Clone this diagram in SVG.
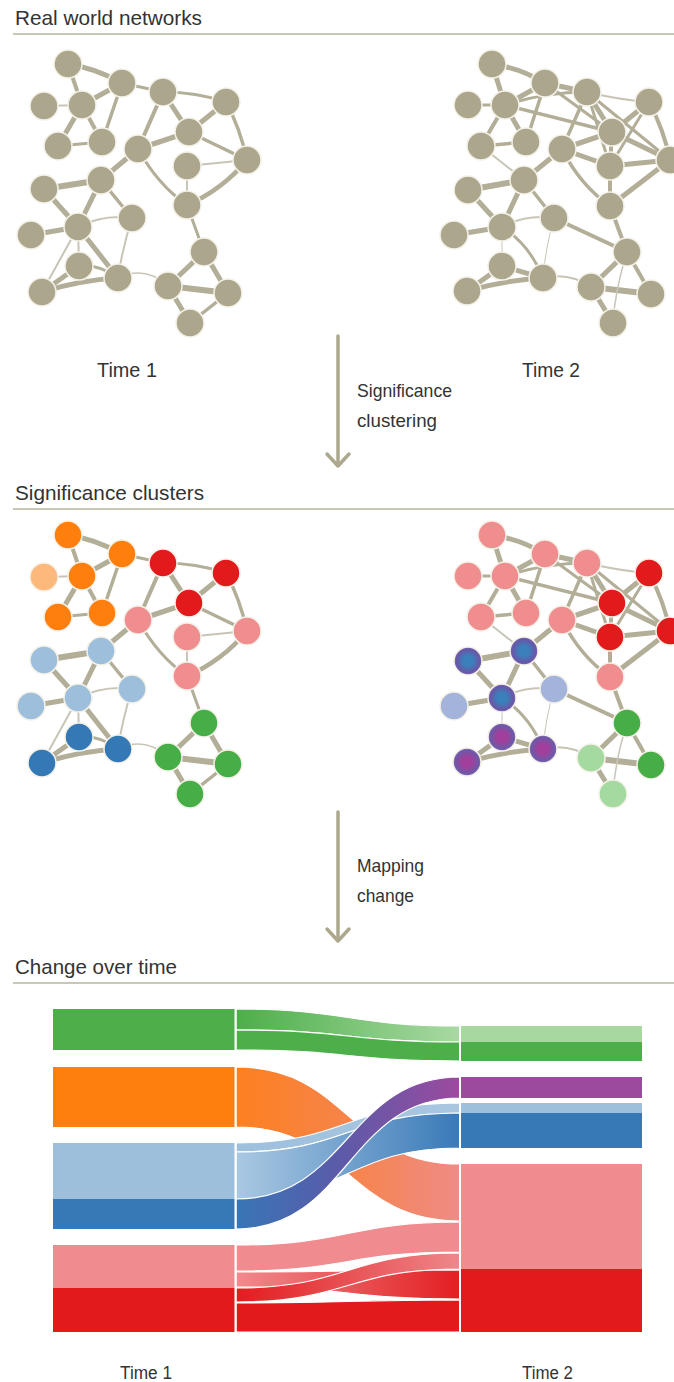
<svg xmlns="http://www.w3.org/2000/svg" xmlns:xlink="http://www.w3.org/1999/xlink" width="674" height="1382" viewBox="0 0 674 1382">
<style>
.hd{font-family:"Liberation Sans",Arial,sans-serif;font-size:21px;fill:#333333}
.lb{font-family:"Liberation Sans",Arial,sans-serif;font-size:20px;fill:#333333}
.al{font-family:"Liberation Sans",Arial,sans-serif;font-size:18.5px;fill:#333333}
.bl{font-family:"Liberation Sans",Arial,sans-serif;font-size:18px;fill:#333333}
.rule{stroke:#c9c7b7;stroke-width:2}
.arr{stroke:#aca88e;stroke-width:3.5;fill:none;stroke-linecap:round;stroke-linejoin:round}
.e{stroke:#b3ae97;fill:none;stroke-linecap:round}
.t{stroke:#c8c5b6}
.n circle{stroke:#f3f1e8;stroke-width:1.5}
.g{fill:#aca78c}
.or{fill:#ff7f0e}.lo{fill:#fdb97c}.rd{fill:#e31a1c}.pk{fill:#f08d8f}.lbl{fill:#9ebfdc}.db{fill:#3478b5}.gr{fill:#47ae47}.lg{fill:#a4d9a0}.lv{fill:#a3b3d9}
.mb{fill:url(#mixB)}.mp{fill:url(#mixP)}
.flow{stroke:#ffffff;stroke-width:1.2}
</style>
<defs>
<radialGradient id="mixB"><stop offset="0.35" stop-color="#3a80bb"/><stop offset="0.85" stop-color="#6a56a6"/><stop offset="1" stop-color="#7f6fb8"/></radialGradient>
<radialGradient id="mixP"><stop offset="0.35" stop-color="#a23f9c"/><stop offset="0.85" stop-color="#6a5aa8"/><stop offset="1" stop-color="#9d6fb8"/></radialGradient>
<linearGradient id="fGreen" gradientUnits="userSpaceOnUse" x1="237" y1="0" x2="459" y2="0"><stop offset="0" stop-color="#4daf4a"/><stop offset="1" stop-color="#a8d9a2"/></linearGradient>
<linearGradient id="fOrange" gradientUnits="userSpaceOnUse" x1="237" y1="0" x2="459" y2="0"><stop offset="0" stop-color="#fd8020"/><stop offset="0.5" stop-color="#f6844a"/><stop offset="1" stop-color="#ef8b86"/></linearGradient>
<linearGradient id="fBlue" gradientUnits="userSpaceOnUse" x1="237" y1="0" x2="459" y2="0"><stop offset="0" stop-color="#a9c8e2"/><stop offset="1" stop-color="#3a7ab8"/></linearGradient>
<linearGradient id="fLB" gradientUnits="userSpaceOnUse" x1="237" y1="0" x2="459" y2="0"><stop offset="0" stop-color="#9ec0dd"/><stop offset="1" stop-color="#a8c6e0"/></linearGradient>
<linearGradient id="fPurple" gradientUnits="userSpaceOnUse" x1="237" y1="0" x2="459" y2="0"><stop offset="0" stop-color="#3876b6"/><stop offset="0.45" stop-color="#5a5ba9"/><stop offset="1" stop-color="#9c4a9e"/></linearGradient>
<linearGradient id="fPR" gradientUnits="userSpaceOnUse" x1="237" y1="0" x2="459" y2="0"><stop offset="0" stop-color="#f08a8d"/><stop offset="1" stop-color="#e31f22"/></linearGradient>
<linearGradient id="fRP" gradientUnits="userSpaceOnUse" x1="237" y1="0" x2="459" y2="0"><stop offset="0" stop-color="#e31c1f"/><stop offset="1" stop-color="#ee878a"/></linearGradient>
<g id="edgesT1">
<path class="e" stroke-width="5" d="M68 64 Q95 68 122 83"/>
<path class="e" stroke-width="4" d="M68 64 L82 105"/>
<path class="e" stroke-width="5" d="M122 83 L82 105"/>
<path class="e t" stroke-width="2" d="M44 106 L82 105"/>
<path class="e" stroke-width="3.5" d="M122 83 L102 142"/>
<path class="e" stroke-width="5" d="M82 105 L58 146"/>
<path class="e" stroke-width="4" d="M82 105 L102 142"/>
<path class="e" stroke-width="3" d="M58 146 L102 142"/>
<path class="e" stroke-width="3" d="M122 83 L163 92"/>
<path class="e" stroke-width="3" d="M163 92 Q196 92 226 102"/>
<path class="e" stroke-width="4" d="M163 92 L138 149"/>
<path class="e" stroke-width="5" d="M163 92 L189 132"/>
<path class="e" stroke-width="5.5" d="M138 149 L189 132"/>
<path class="e" stroke-width="5" d="M226 102 L189 132"/>
<path class="e" stroke-width="3.5" d="M226 102 Q240 128 247 160"/>
<path class="e" stroke-width="3.5" d="M189 132 L247 160"/>
<path class="e t" stroke-width="2" d="M187 166 L247 160"/>
<path class="e t" stroke-width="2" d="M187 166 L187 205"/>
<path class="e" stroke-width="4.5" d="M247 160 Q222 190 187 205"/>
<path class="e" stroke-width="3" d="M138 149 Q158 185 187 205"/>
<path class="e" stroke-width="5" d="M138 149 L101 180"/>
<path class="e" stroke-width="6" d="M44 189 L101 180"/>
<path class="e" stroke-width="5" d="M44 189 L78 227"/>
<path class="e" stroke-width="5" d="M101 180 L78 227"/>
<path class="e" stroke-width="3.5" d="M101 180 L132 218"/>
<path class="e t" stroke-width="2" d="M132 218 Q104 214 78 227"/>
<path class="e" stroke-width="5" d="M78 227 L31 235"/>
<path class="e t" stroke-width="2" d="M78 227 L79 266"/>
<path class="e" stroke-width="5" d="M78 227 L118 278"/>
<path class="e t" stroke-width="2" d="M78 227 L42 292"/>
<path class="e t" stroke-width="2" d="M132 218 Q122 250 118 278"/>
<path class="e" stroke-width="3" d="M79 266 Q100 264 118 278"/>
<path class="e" stroke-width="5" d="M79 266 L42 292"/>
<path class="e" stroke-width="5" d="M42 292 Q80 280 118 278"/>
<path class="e t" stroke-width="1.5" d="M118 278 Q145 265 168 286"/>
<path class="e" stroke-width="3" d="M187 205 L204 252"/>
<path class="e" stroke-width="5" d="M204 252 L168 286"/>
<path class="e" stroke-width="5" d="M204 252 L228 293"/>
<path class="e" stroke-width="6" d="M168 286 L228 293"/>
<path class="e" stroke-width="5" d="M168 286 L190 323"/>
<path class="e" stroke-width="3.5" d="M228 293 L190 323"/>
</g>
<g id="edgesT2">
<path class="e" stroke-width="5" d="M492 64 Q520 68 545 83"/>
<path class="e" stroke-width="5" d="M492 64 L505 105"/>
<path class="e" stroke-width="3" d="M468 105 L505 105"/>
<path class="e" stroke-width="5" d="M545 83 L505 105"/>
<path class="e" stroke-width="3" d="M505 105 Q545 92 587 92"/>
<path class="e" stroke-width="5" d="M545 83 L587 92"/>
<path class="e" stroke-width="3" d="M545 83 L612 132"/>
<path class="e" stroke-width="3.5" d="M505 105 L612 132"/>
<path class="e" stroke-width="5" d="M505 105 L526 142"/>
<path class="e" stroke-width="4" d="M505 105 L481 146"/>
<path class="e" stroke-width="3.5" d="M481 146 L526 142"/>
<path class="e" stroke-width="3.5" d="M545 83 L526 142"/>
<path class="e" stroke-width="3.5" d="M587 92 L562 149"/>
<path class="e" stroke-width="5" d="M587 92 L612 132"/>
<path class="e" stroke-width="3" d="M587 92 L610 166"/>
<path class="e t" stroke-width="2" d="M587 92 Q620 100 649 102"/>
<path class="e" stroke-width="5.5" d="M562 149 L612 132"/>
<path class="e" stroke-width="5" d="M562 149 L610 166"/>
<path class="e" stroke-width="5" d="M649 102 L612 132"/>
<path class="e" stroke-width="3" d="M649 102 L610 166"/>
<path class="e" stroke-width="4" d="M649 102 Q664 130 670 160"/>
<path class="e" stroke-width="5" d="M612 132 L670 160"/>
<path class="e" stroke-width="5" d="M610 166 L670 160"/>
<path class="e" stroke-width="4" d="M612 132 L610 166"/>
<path class="e" stroke-width="3" d="M587 92 L670 160"/>
<path class="e" stroke-width="3.5" d="M562 149 Q580 185 610 206"/>
<path class="e" stroke-width="4" d="M610 166 L610 206"/>
<path class="e" stroke-width="5" d="M670 160 L610 206"/>
<path class="e t" stroke-width="2" d="M481 146 L524 180"/>
<path class="e" stroke-width="5" d="M562 149 L524 180"/>
<path class="e" stroke-width="6" d="M468 190 L524 180"/>
<path class="e" stroke-width="5" d="M468 190 L502 227"/>
<path class="e" stroke-width="5" d="M524 180 L502 227"/>
<path class="e" stroke-width="3.5" d="M524 180 L554 218"/>
<path class="e t" stroke-width="2" d="M554 218 Q526 214 502 227"/>
<path class="e" stroke-width="5" d="M454 235 L502 227"/>
<path class="e t" stroke-width="1" d="M502 227 L502 266"/>
<path class="e" stroke-width="3" d="M502 227 Q530 245 543 278"/>
<path class="e t" stroke-width="1" d="M554 218 Q545 250 543 278"/>
<path class="e" stroke-width="4" d="M554 218 L627 252"/>
<path class="e" stroke-width="4" d="M610 206 L627 252"/>
<path class="e" stroke-width="5" d="M502 266 L543 278"/>
<path class="e" stroke-width="5" d="M502 266 L467 291"/>
<path class="e" stroke-width="5" d="M467 291 Q505 280 543 278"/>
<path class="e t" stroke-width="2" d="M543 278 Q570 272 591 287"/>
<path class="e" stroke-width="5" d="M627 252 L591 287"/>
<path class="e" stroke-width="4" d="M627 252 L651 294"/>
<path class="e" stroke-width="6" d="M591 287 L651 294"/>
<path class="e" stroke-width="5" d="M591 287 L613 323"/>
<path class="e t" stroke-width="1.5" d="M627 252 Q615 290 613 323"/>
</g>
</defs>
<rect width="674" height="1382" fill="#ffffff"/>

<g id="headers">
<text class="hd" x="15" y="25" textLength="187" lengthAdjust="spacingAndGlyphs">Real world networks</text>
<line class="rule" x1="13" y1="34" x2="674" y2="34"/>
<text class="hd" x="15" y="500" textLength="189" lengthAdjust="spacingAndGlyphs">Significance clusters</text>
<line class="rule" x1="13" y1="509" x2="674" y2="509"/>
<text class="hd" x="15" y="974" textLength="162" lengthAdjust="spacingAndGlyphs">Change over time</text>
<line class="rule" x1="13" y1="983" x2="674" y2="983"/>
<text class="lb" x="97" y="377" textLength="60" lengthAdjust="spacingAndGlyphs">Time 1</text>
<text class="lb" x="522" y="377" textLength="58" lengthAdjust="spacingAndGlyphs">Time 2</text>
<text class="bl" x="120" y="1379" textLength="52" lengthAdjust="spacingAndGlyphs">Time 1</text>
<text class="bl" x="522" y="1379" textLength="51" lengthAdjust="spacingAndGlyphs">Time 2</text>
</g>

<g id="arrow-clustering">
<line class="arr" x1="338" y1="336" x2="338" y2="465"/>
<polyline class="arr" points="327,454 338,466 349,454"/>
<text class="al" x="357" y="397" textLength="95" lengthAdjust="spacingAndGlyphs">Significance</text>
<text class="al" x="357" y="427" textLength="80" lengthAdjust="spacingAndGlyphs">clustering</text>
</g>
<g id="arrow-mapping">
<line class="arr" x1="338" y1="812" x2="338" y2="940"/>
<polyline class="arr" points="327,929 338,941 349,929"/>
<text class="al" x="357" y="872" textLength="67" lengthAdjust="spacingAndGlyphs">Mapping</text>
<text class="al" x="357" y="902" textLength="57" lengthAdjust="spacingAndGlyphs">change</text>
</g>

<g id="connectors">
<use xlink:href="#edgesT1" href="#edgesT1"/>
<use xlink:href="#edgesT2" href="#edgesT2"/>
<use xlink:href="#edgesT1" href="#edgesT1" transform="translate(0,471)"/>
<use xlink:href="#edgesT2" href="#edgesT2" transform="translate(0,471)"/>
</g>

<g id="network-time1">
<g id="a1" class="n"><circle class="g" cx="68" cy="64" r="14"/></g>
<g id="a2" class="n"><circle class="g" cx="122" cy="83" r="14"/></g>
<g id="a3" class="n"><circle class="g" cx="44" cy="106" r="14"/></g>
<g id="a4" class="n"><circle class="g" cx="82" cy="105" r="14"/></g>
<g id="a5" class="n"><circle class="g" cx="163" cy="92" r="14"/></g>
<g id="a6" class="n"><circle class="g" cx="226" cy="102" r="14"/></g>
<g id="a7" class="n"><circle class="g" cx="58" cy="146" r="14"/></g>
<g id="a8" class="n"><circle class="g" cx="102" cy="142" r="14"/></g>
<g id="a9" class="n"><circle class="g" cx="138" cy="149" r="14"/></g>
<g id="a10" class="n"><circle class="g" cx="189" cy="132" r="14"/></g>
<g id="a11" class="n"><circle class="g" cx="187" cy="166" r="14"/></g>
<g id="a12" class="n"><circle class="g" cx="247" cy="160" r="14"/></g>
<g id="a13" class="n"><circle class="g" cx="44" cy="189" r="14"/></g>
<g id="a14" class="n"><circle class="g" cx="101" cy="180" r="14"/></g>
<g id="a15" class="n"><circle class="g" cx="187" cy="205" r="14"/></g>
<g id="a16" class="n"><circle class="g" cx="132" cy="218" r="14"/></g>
<g id="a17" class="n"><circle class="g" cx="78" cy="227" r="14"/></g>
<g id="a18" class="n"><circle class="g" cx="31" cy="235" r="14"/></g>
<g id="a19" class="n"><circle class="g" cx="79" cy="266" r="14"/></g>
<g id="a20" class="n"><circle class="g" cx="118" cy="278" r="14"/></g>
<g id="a21" class="n"><circle class="g" cx="204" cy="252" r="14"/></g>
<g id="a22" class="n"><circle class="g" cx="168" cy="286" r="14"/></g>
<g id="a23" class="n"><circle class="g" cx="228" cy="293" r="14"/></g>
<g id="a24" class="n"><circle class="g" cx="42" cy="292" r="14"/></g>
<g id="a25" class="n"><circle class="g" cx="190" cy="323" r="14"/></g>
</g>

<g id="network-time2">
<g id="b1" class="n"><circle class="g" cx="492" cy="64" r="14"/></g>
<g id="b2" class="n"><circle class="g" cx="545" cy="83" r="14"/></g>
<g id="b3" class="n"><circle class="g" cx="468" cy="105" r="14"/></g>
<g id="b4" class="n"><circle class="g" cx="505" cy="105" r="14"/></g>
<g id="b5" class="n"><circle class="g" cx="587" cy="92" r="14"/></g>
<g id="b6" class="n"><circle class="g" cx="649" cy="102" r="14"/></g>
<g id="b7" class="n"><circle class="g" cx="481" cy="146" r="14"/></g>
<g id="b8" class="n"><circle class="g" cx="526" cy="142" r="14"/></g>
<g id="b9" class="n"><circle class="g" cx="562" cy="149" r="14"/></g>
<g id="b10" class="n"><circle class="g" cx="612" cy="132" r="14"/></g>
<g id="b11" class="n"><circle class="g" cx="610" cy="166" r="14"/></g>
<g id="b12" class="n"><circle class="g" cx="670" cy="160" r="14"/></g>
<g id="b13" class="n"><circle class="g" cx="468" cy="190" r="14"/></g>
<g id="b14" class="n"><circle class="g" cx="524" cy="180" r="14"/></g>
<g id="b15" class="n"><circle class="g" cx="610" cy="206" r="14"/></g>
<g id="b16" class="n"><circle class="g" cx="554" cy="218" r="14"/></g>
<g id="b17" class="n"><circle class="g" cx="502" cy="227" r="14"/></g>
<g id="b18" class="n"><circle class="g" cx="454" cy="235" r="14"/></g>
<g id="b19" class="n"><circle class="g" cx="502" cy="266" r="14"/></g>
<g id="b20" class="n"><circle class="g" cx="543" cy="278" r="14"/></g>
<g id="b21" class="n"><circle class="g" cx="627" cy="252" r="14"/></g>
<g id="b22" class="n"><circle class="g" cx="591" cy="287" r="14"/></g>
<g id="b23" class="n"><circle class="g" cx="651" cy="294" r="14"/></g>
<g id="b24" class="n"><circle class="g" cx="467" cy="291" r="14"/></g>
<g id="b25" class="n"><circle class="g" cx="613" cy="323" r="14"/></g>
</g>

<g id="clusters-time1" transform="translate(0,471)">
<g id="c1" class="n"><circle class="or" cx="68" cy="64" r="14"/></g>
<g id="c2" class="n"><circle class="or" cx="122" cy="83" r="14"/></g>
<g id="c3" class="n"><circle class="lo" cx="44" cy="106" r="14"/></g>
<g id="c4" class="n"><circle class="or" cx="82" cy="105" r="14"/></g>
<g id="c5" class="n"><circle class="rd" cx="163" cy="92" r="14"/></g>
<g id="c6" class="n"><circle class="rd" cx="226" cy="102" r="14"/></g>
<g id="c7" class="n"><circle class="or" cx="58" cy="146" r="14"/></g>
<g id="c8" class="n"><circle class="or" cx="102" cy="142" r="14"/></g>
<g id="c9" class="n"><circle class="pk" cx="138" cy="149" r="14"/></g>
<g id="c10" class="n"><circle class="rd" cx="189" cy="132" r="14"/></g>
<g id="c11" class="n"><circle class="pk" cx="187" cy="166" r="14"/></g>
<g id="c12" class="n"><circle class="pk" cx="247" cy="160" r="14"/></g>
<g id="c13" class="n"><circle class="lbl" cx="44" cy="189" r="14"/></g>
<g id="c14" class="n"><circle class="lbl" cx="101" cy="180" r="14"/></g>
<g id="c15" class="n"><circle class="pk" cx="187" cy="205" r="14"/></g>
<g id="c16" class="n"><circle class="lbl" cx="132" cy="218" r="14"/></g>
<g id="c17" class="n"><circle class="lbl" cx="78" cy="227" r="14"/></g>
<g id="c18" class="n"><circle class="lbl" cx="31" cy="235" r="14"/></g>
<g id="c19" class="n"><circle class="db" cx="79" cy="266" r="14"/></g>
<g id="c20" class="n"><circle class="db" cx="118" cy="278" r="14"/></g>
<g id="c21" class="n"><circle class="gr" cx="204" cy="252" r="14"/></g>
<g id="c22" class="n"><circle class="gr" cx="168" cy="286" r="14"/></g>
<g id="c23" class="n"><circle class="gr" cx="228" cy="293" r="14"/></g>
<g id="c24" class="n"><circle class="db" cx="42" cy="292" r="14"/></g>
<g id="c25" class="n"><circle class="gr" cx="190" cy="323" r="14"/></g>
</g>

<g id="clusters-time2" transform="translate(0,471)">
<g id="d1" class="n"><circle class="pk" cx="492" cy="64" r="14"/></g>
<g id="d2" class="n"><circle class="pk" cx="545" cy="83" r="14"/></g>
<g id="d3" class="n"><circle class="pk" cx="468" cy="105" r="14"/></g>
<g id="d4" class="n"><circle class="pk" cx="505" cy="105" r="14"/></g>
<g id="d5" class="n"><circle class="pk" cx="587" cy="92" r="14"/></g>
<g id="d6" class="n"><circle class="rd" cx="649" cy="102" r="14"/></g>
<g id="d7" class="n"><circle class="pk" cx="481" cy="146" r="14"/></g>
<g id="d8" class="n"><circle class="pk" cx="526" cy="142" r="14"/></g>
<g id="d9" class="n"><circle class="pk" cx="562" cy="149" r="14"/></g>
<g id="d10" class="n"><circle class="rd" cx="612" cy="132" r="14"/></g>
<g id="d11" class="n"><circle class="rd" cx="610" cy="166" r="14"/></g>
<g id="d12" class="n"><circle class="rd" cx="670" cy="160" r="14"/></g>
<g id="d13" class="n"><circle class="mb" cx="468" cy="190" r="14"/></g>
<g id="d14" class="n"><circle class="mb" cx="524" cy="180" r="14"/></g>
<g id="d15" class="n"><circle class="pk" cx="610" cy="206" r="14"/></g>
<g id="d16" class="n"><circle class="lv" cx="554" cy="218" r="14"/></g>
<g id="d17" class="n"><circle class="mb" cx="502" cy="227" r="14"/></g>
<g id="d18" class="n"><circle class="lv" cx="454" cy="235" r="14"/></g>
<g id="d19" class="n"><circle class="mp" cx="502" cy="266" r="14"/></g>
<g id="d20" class="n"><circle class="mp" cx="543" cy="278" r="14"/></g>
<g id="d21" class="n"><circle class="gr" cx="627" cy="252" r="14"/></g>
<g id="d22" class="n"><circle class="lg" cx="591" cy="287" r="14"/></g>
<g id="d23" class="n"><circle class="gr" cx="651" cy="294" r="14"/></g>
<g id="d24" class="n"><circle class="mp" cx="467" cy="291" r="14"/></g>
<g id="d25" class="n"><circle class="lg" cx="613" cy="323" r="14"/></g>
</g>

<g id="alluvial">
<g id="bars-time1">
<rect x="53" y="1009" width="182" height="41" fill="#4daf4a"/>
<rect x="53" y="1067" width="182" height="60" fill="#ff7f0e"/>
<rect x="53" y="1143" width="182" height="56" fill="#9ebfdc"/>
<rect x="53" y="1199" width="182" height="30" fill="#3679b6"/>
<rect x="53" y="1245" width="182" height="43" fill="#f08c8f"/>
<rect x="53" y="1288" width="182" height="44" fill="#e31a1c"/>
</g>
<g id="bars-time2">
<rect x="460" y="1026" width="182" height="16" fill="#a6d8a0"/>
<rect x="460" y="1042" width="182" height="19" fill="#4daf4a"/>
<rect x="460" y="1077" width="182" height="21" fill="#9b4a9e"/>
<rect x="460" y="1103" width="182" height="10" fill="#9ebfdc"/>
<rect x="460" y="1113" width="182" height="35" fill="#3679b6"/>
<rect x="460" y="1164" width="182" height="105" fill="#f08c8f"/>
<rect x="460" y="1269" width="182" height="63" fill="#e31a1c"/>
</g>
<g id="flows">
<path class="flow" fill="url(#fGreen)" d="M236 1009 C348 1009 348 1026 460 1026 L460 1042 C348 1042 348 1030 236 1030 Z"/>
<path class="flow" fill="#4daf4a" d="M236 1030 C348 1030 348 1042 460 1042 L460 1061 C348 1061 348 1050 236 1050 Z"/>
<path class="flow" fill="url(#fOrange)" d="M236 1067 C348 1067 348 1164 460 1164 L460 1221 C348 1221 348 1127 236 1127 Z"/>
<path class="flow" fill="url(#fLB)" d="M236 1143 C348 1143 348 1103 460 1103 L460 1113 C348 1113 348 1152 236 1152 Z"/>
<path class="flow" fill="url(#fBlue)" d="M236 1152 C348 1152 348 1113 460 1113 L460 1148 C348 1148 348 1199 236 1199 Z"/>
<path class="flow" fill="url(#fPurple)" d="M236 1199 C348 1199 348 1077 460 1077 L460 1098 C348 1098 348 1229 236 1229 Z"/>
<path class="flow" fill="#f08c8f" d="M236 1245 C348 1245 348 1222 460 1222 L460 1252 C348 1252 348 1271 236 1271 Z"/>
<path class="flow" fill="url(#fPR)" d="M236 1272 C348 1272 348 1270 460 1270 L460 1299 C348 1299 348 1287 236 1287 Z"/>
<path class="flow" fill="url(#fRP)" d="M236 1288 C348 1288 348 1253 460 1253 L460 1269 C348 1269 348 1302 236 1302 Z"/>
<path class="flow" fill="#e31a1c" d="M236 1303 C348 1303 348 1300 460 1300 L460 1332 C348 1332 348 1332 236 1332 Z"/>
</g>
<line x1="235.5" y1="1005" x2="235.5" y2="1336" stroke="#ffffff" stroke-width="2"/>
<line x1="460" y1="1005" x2="460" y2="1336" stroke="#ffffff" stroke-width="2"/>
</g>
</svg>
